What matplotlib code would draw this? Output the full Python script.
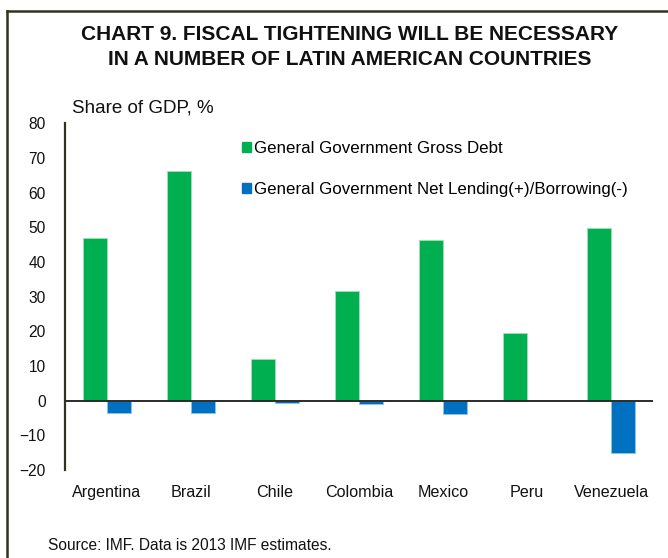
import numpy as np
import matplotlib.pyplot as plt
from matplotlib.patches import Patch
from matplotlib.lines import Line2D

countries = ["Argentina", "Brazil", "Chile", "Colombia", "Mexico", "Peru", "Venezuela"]
gross_debt = [46.8, 66.3, 12.0, 31.6, 46.4, 19.4, 49.7]
net_lending = [-3.6, -3.5, -0.8, -1.0, -3.9, 0.3, -15.2]
yticks = [-20, -10, 0, 10, 20, 30, 40, 50, 60, 70, 80]

debt_label = "General Government Gross Debt"
lending_label = "General Government Net Lending(+)/Borrowing(-)"

green = "#00B050"
blue = "#0070C0"
frame_col = "#30331F"

plt.rcParams['font.family'] = ['Liberation Sans', 'DejaVu Sans']

fig = plt.figure(figsize=(6.68, 5.58), dpi=100)
ax = fig.add_axes([65/668, 1-470/558, 588/668, 346.7/558])

x = np.arange(len(countries))
w = 24/84
ax.bar(x - w/2, gross_debt, w, color=green, edgecolor="#9FE0B8", linewidth=0.6, zorder=2)
ax.bar(x + w/2, net_lending, w, color=blue, edgecolor="#8FC3EA", linewidth=0.6, zorder=2)
ax.axhline(0, color="#2B2B2B", lw=1.4, zorder=3)

ax.set_xlim(-0.5, len(countries) - 0.5)
ax.set_ylim(-20, 80)
ax.set_yticks(yticks)
ax.set_xticks(x)
ax.set_xticklabels(countries, fontsize=11.6)
ax.tick_params(axis='both', length=0, colors="#111111")
ax.tick_params(axis='y', pad=14, labelsize=11.2)
ax.tick_params(axis='x', pad=11)
for s in ["top", "right", "bottom"]:
    ax.spines[s].set_visible(False)
ax.spines["left"].set_color(frame_col)
ax.spines["left"].set_linewidth(1.6)

handles = [Patch(color=green), Patch(color=blue)]
ax.legend(handles, [debt_label, lending_label], loc="upper left",
          bbox_to_anchor=(170/588, 1-11/346.7), frameon=False, fontsize=12.2,
          handlelength=0.55, handleheight=0.55, handletextpad=0.2,
          labelspacing=1.55, borderaxespad=0)

fig.text(350/668, 1-40/558, "CHART 9. FISCAL TIGHTENING WILL BE NECESSARY",
         ha="center", va="baseline", fontsize=15, fontweight="bold", color="#111111")
fig.text(350/668, 1-65/558, "IN A NUMBER OF LATIN AMERICAN COUNTRIES",
         ha="center", va="baseline", fontsize=15, fontweight="bold", color="#111111")
fig.text(72/668, 1-112.5/558, "Share of GDP, %", ha="left", va="baseline", fontsize=13.5, color="#111111")
fig.text(48/668, 1-545/558, "Source: IMF. Data is 2013 IMF estimates.", ha="left", va="center",
         fontsize=11.2, color="#111111")

# outer frame: left and top edges
fig.add_artist(Line2D([7/668, 7/668], [0, 1-11/558], color=frame_col, lw=1.8, transform=fig.transFigure))
fig.add_artist(Line2D([7/668, 1], [1-11/558, 1-11/558], color=frame_col, lw=1.8, transform=fig.transFigure))

fig.savefig("out.png", dpi=100)
